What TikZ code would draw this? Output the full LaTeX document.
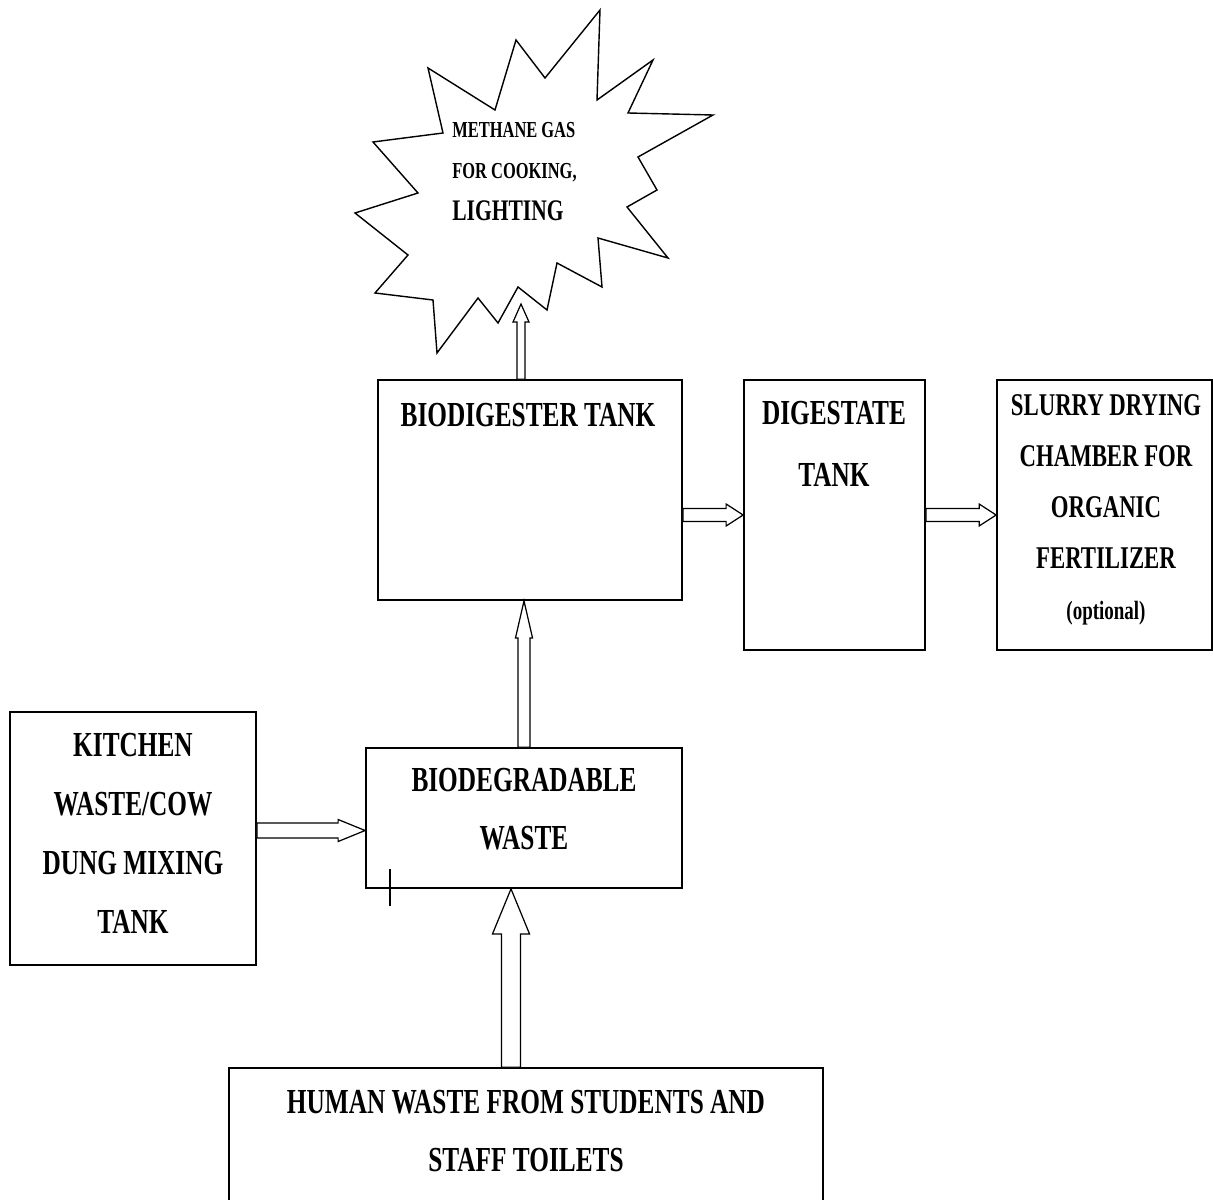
\documentclass[tikz,border=0pt]{standalone}
\usepackage{fontspec}
\setmainfont{Liberation Serif}[FakeStretch=0.72]
\usetikzlibrary{calc}
\usetikzlibrary{positioning}

\tikzset{box/.style={draw, line width=1pt, inner sep=0pt},
 lbl/.style={font=\bfseries\fontsize{20}{33}\selectfont, align=center, inner sep=0pt},
 barrow/.style={draw, fill=white, line width=.7pt, line join=miter}}

% outlined block arrow: from, to, half shaft, half head, head length
\newcommand{\blockarrow}[5]{%
 \path ($(#2)!#5!(#1)$) coordinate (bah);
 \draw[barrow] ($(#1)!#3!90:(#2)$) -- ($(bah)!#3!-90:(#1)$) -- ($(bah)!#4!-90:(#1)$) -- (#2)
  -- ($(bah)!#4!90:(#1)$) -- ($(bah)!#3!90:(#1)$) -- ($(#1)!#3!-90:(#2)$) -- cycle;
}

\begin{document}
\begin{tikzpicture}[x=.2mm, y=-.2mm]
\useasboundingbox (0,0) rectangle (1213,1200);

% the gas cloud
\draw[line width=.8pt, line join=miter] (428,68) -- (495,110) -- (516,40) -- (545,78) -- (600,10) -- (597,100)
 -- (653,60) -- (628,113) -- (713,115) -- (638,157) -- (657,190) -- (627,207) -- (668,258)
 -- (598,238) -- (602,287) -- (557,263) -- (547,310) -- (518,287) -- (498,323) -- (478,298)
 -- (437,353) -- (433,300) -- (375,293) -- (408,255) -- (355,213) -- (418,193) -- (373,142)
 -- (443,133) -- cycle;
\node[anchor=north west, align=left, inner sep=0pt, font=\bfseries\fontsize{13}{23.5}\selectfont] (gastxt) at (452,122)
 {METHANE GAS\\FOR COOKING,\\{\fontsize{17}{23.5}\selectfont LIGHTING}};
\coordinate (gas) at (521,304);

% boxes
\node[box, minimum width=60.8mm, minimum height=44mm] (bdt) at (530,490) {};
\node[lbl] (bdttxt) at (528,415) {BIODIGESTER TANK};

\node[box, minimum width=36.2mm, minimum height=54mm] (dig) at (834.5,515) {};
\node[lbl, font=\bfseries\fontsize{20}{35}\selectfont] (digtxt) at (834,444) {DIGESTATE\\TANK};

\node[box, minimum width=43mm, minimum height=54mm] (sl) at (1104.5,515) {};
\node[lbl, font=\bfseries\fontsize{18}{29}\selectfont] (sltxt) at (1106,510)
 {SLURRY DRYING\\CHAMBER FOR\\ORGANIC\\FERTILIZER\\{\fontsize{15}{29}\selectfont (optional)}};

\node[box, minimum width=49.2mm, minimum height=50.6mm] (kit) at (133,838.5) {};
\node[lbl, font=\bfseries\fontsize{20}{33.6}\selectfont] (kittxt) at (133,833)
 {KITCHEN\\WASTE/COW\\DUNG MIXING\\TANK};

\node[box, minimum width=63.2mm, minimum height=28mm] (bdw) at (524,818) {};
\node[lbl] (bdwtxt) at (524,809) {BIODEGRADABLE\\WASTE};

\node[box, minimum width=118.8mm, minimum height=28.4mm] (hum) at (526,1139) {};
\node[lbl] (humtxt) at (526,1131) {HUMAN WASTE FROM STUDENTS AND\\STAFF TOILETS};

% arrows
\coordinate (a1) at (bdt.north -| gas);
\blockarrow{a1}{gas}{.8mm}{1.6mm}{3.6mm}
\coordinate (a2) at (bdt.east |- dig.west);
\blockarrow{a2}{dig.west}{1.3mm}{2.2mm}{3.4mm}
\blockarrow{dig.east}{sl.west}{1.3mm}{2.2mm}{3.4mm}
\coordinate (a3) at ($(kit.east)+(0,-8)$);
\coordinate (a4) at (bdw.west |- a3);
\blockarrow{a3}{a4}{1.5mm}{2.2mm}{5.4mm}
\coordinate (a5) at (bdt.south -| bdw.north);
\blockarrow{bdw.north}{a5}{1.2mm}{1.7mm}{7.4mm}
\coordinate (a6) at ($(hum.north)+(-15,0)$);
\coordinate (a7) at (bdw.south -| a6);
\blockarrow{a6}{a7}{1.9mm}{3.7mm}{9mm}

\draw[line width=1.2pt] ($(bdw.south west)+(25,-20)$) -- ++(0,37);
\end{tikzpicture}
\end{document}
